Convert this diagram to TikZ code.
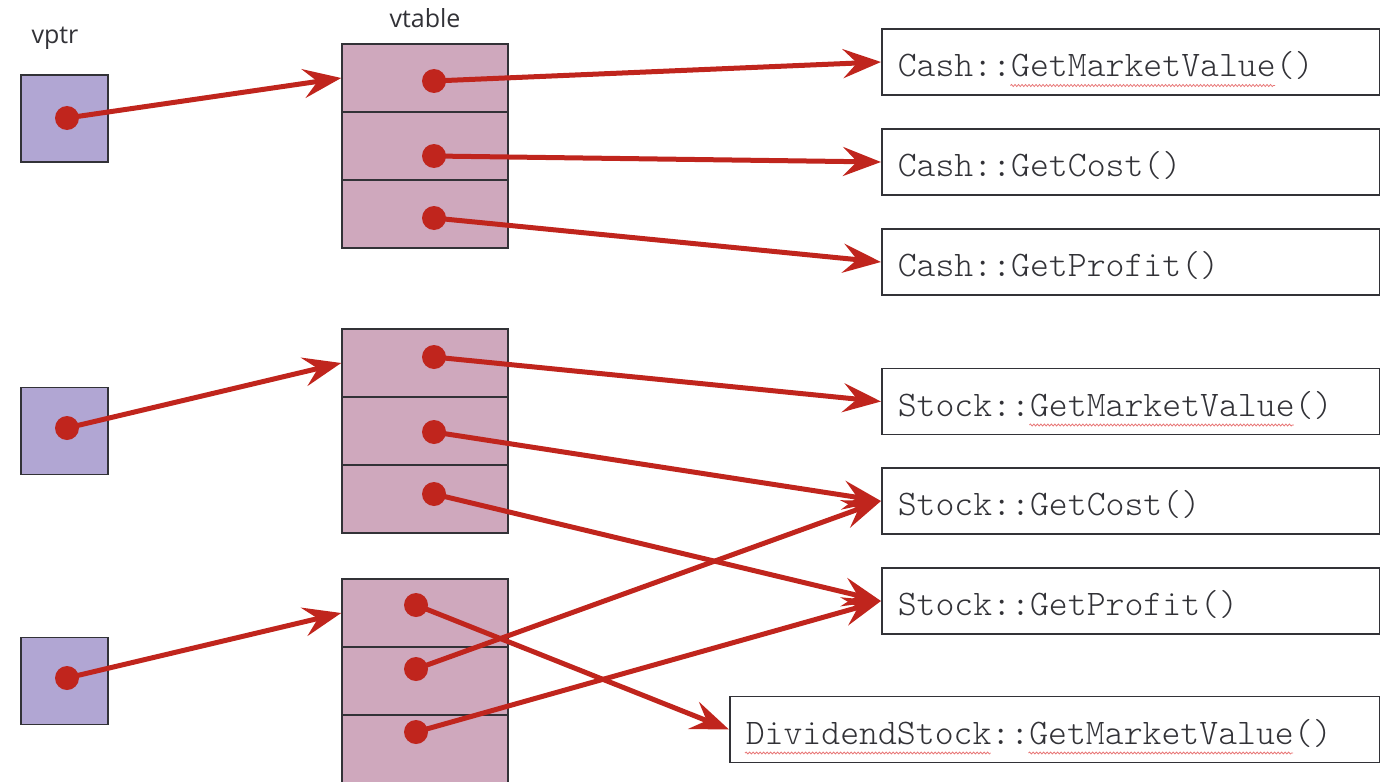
\documentclass[tikz,border=0pt]{standalone}
\usepackage{fontspec}
\setmainfont{Open Sans}
\setmonofont{Latin Modern Mono Light}
\usepackage{tikz}
\usetikzlibrary{arrows.meta, positioning, calc, decorations.pathmorphing}
\definecolor{myred}{RGB}{192,37,29}
\definecolor{mydark}{RGB}{50,50,55}
\definecolor{mylilac}{RGB}{177,166,211}
\definecolor{mypink}{RGB}{207,168,189}
\definecolor{mysquig}{RGB}{232,120,120}
\tikzset{
  ptrbox/.style={rectangle, draw=mydark, fill=mylilac,
    minimum width=87pt, minimum height=87pt, inner sep=0pt, line width=1.5pt},
  slot/.style={rectangle, draw=mydark, fill=mypink,
    minimum width=166pt, minimum height=68pt, inner sep=0pt, line width=1.5pt},
  funcbox/.style={rectangle, draw=mydark, anchor=west, align=left,
    minimum height=66pt, inner xsep=16pt, text width=466pt,
    text height=33pt, text depth=4pt, text=mydark,
    font=\ttfamily\fontsize{36}{40}\selectfont, line width=1.5pt},
  dot/.style={circle, fill=myred, minimum size=24pt, inner sep=0pt},
  arrow/.style={-{Stealth[length=38pt, width=29pt, inset=14pt]},
    line width=5pt, color=myred},
  squig/.style={decorate, decoration={snake, amplitude=1pt, segment length=3.5pt},
    color=mysquig, line width=0.8pt},
  toplabel/.style={font=\fontsize{25}{30}\selectfont, text=mydark}
}

\begin{document}
\begin{tikzpicture}[x=1pt, y=-1pt]
  \useasboundingbox (0,0) rectangle (1380,781);

  % labels
  \node[toplabel] (vptrlbl) at (55,38) {vptr};
  \node[toplabel] (vtbllbl) at (425,18) {vtable};

  % vptr boxes
  \node[ptrbox] (p1) at (64.5,118.5) {};
  \node[ptrbox] (p2) at (64.5,431) {};
  \node[ptrbox] (p3) at (64.5,681) {};

  % vtables
  \node[slot] (t1a) at (425,78) {};
  \node[slot] (t1b) at (425,146) {};
  \node[slot] (t1c) at (425,214) {};
  \node[slot] (t2a) at (425,363) {};
  \node[slot] (t2b) at (425,431) {};
  \node[slot] (t2c) at (425,499) {};
  \node[slot] (t3a) at (425,613) {};
  \node[slot] (t3b) at (425,681) {};
  \node[slot] (t3c) at (425,749) {};

  % method boxes
  \node[funcbox] (cmv) at (881,62) {Cash::GetMarketValue()};
  \node[funcbox] (ccost) at (881,162) {Cash::GetCost()};
  \node[funcbox] (cprof) at (881,262) {Cash::GetProfit()};
  \node[funcbox] (smv) at (881,401.5) {Stock::GetMarketValue()};
  \node[funcbox] (scost) at (881,501) {Stock::GetCost()};
  \node[funcbox] (sprof) at (881,601) {Stock::GetProfit()};
  \node[funcbox, text width=618pt] (dmv) at (729,729.5) {DividendStock::GetMarketValue()};

  % spell-check squiggles
  \draw[squig] ($(cmv.base west)+(16pt+6*18.9pt,-9pt)$) -- ++(14*18.9pt,0);
  \draw[squig] ($(smv.base west)+(16pt+7*18.9pt,-9pt)$) -- ++(14*18.9pt,0);
  \draw[squig] ($(dmv.base west)+(16pt,-9pt)$) -- ++(13*18.9pt,0);
  \draw[squig] ($(dmv.base west)+(16pt+15*18.9pt,-9pt)$) -- ++(14*18.9pt,0);

  % pointer dots
  \node[dot] (d0) at (67,118) {};
  \node[dot] (d1) at (67,428) {};
  \node[dot] (d2) at (67,678) {};
  \node[dot] (e1a) at (434,81) {};
  \node[dot] (e1b) at (434,156) {};
  \node[dot] (e1c) at (434,218) {};
  \node[dot] (e2a) at (434,357) {};
  \node[dot] (e2b) at (434,432) {};
  \node[dot] (e2c) at (434,494) {};
  \node[dot] (e3a) at (416,605) {};
  \node[dot] (e3b) at (416,669) {};
  \node[dot] (e3c) at (416,732) {};

  % vptr -> vtable
  \draw[arrow] (d0.center) -- (t1a.west);
  \draw[arrow] (d1.center) -- (t2a.west);
  \draw[arrow] (d2.center) -- (t3a.west);

  % vtable -> methods
  \draw[arrow] (e1a.center) -- (cmv.west);
  \draw[arrow] (e1b.center) -- (ccost.west);
  \draw[arrow] (e1c.center) -- (cprof.west);
  \draw[arrow] (e2a.center) -- (smv.west);
  \draw[arrow] (e2b.center) -- (scost.west);
  \draw[arrow] (e2c.center) -- (sprof.west);
  \draw[arrow] (e3a.center) -- (dmv.west);
  \draw[arrow] (e3b.center) -- (scost.west);
  \draw[arrow] (e3c.center) -- (sprof.west);
\end{tikzpicture}
\end{document}
